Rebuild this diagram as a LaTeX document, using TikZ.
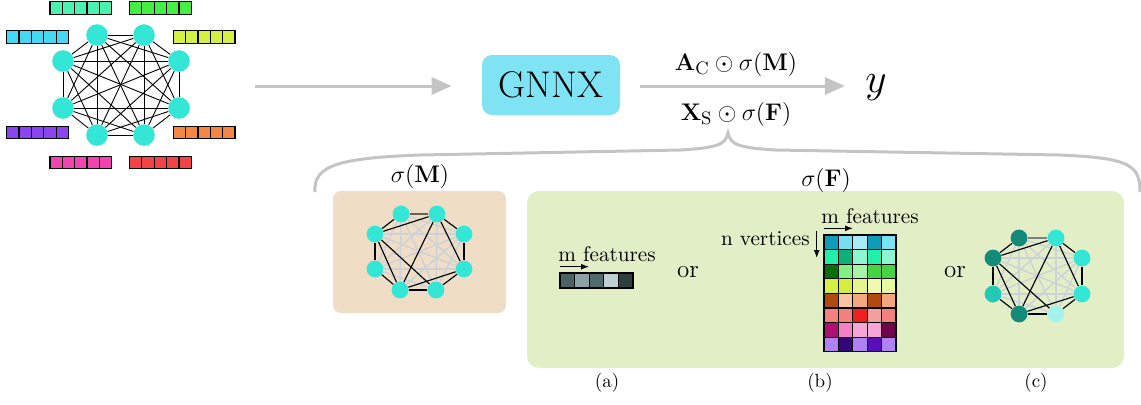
\documentclass[tikz,border=0pt]{standalone}
\usepackage{amsmath}
\usetikzlibrary{arrows.meta}
\definecolor{turq}{HTML}{33E6D6}
\definecolor{arrowgray}{HTML}{C4C4C4}
\definecolor{gnnxcol}{HTML}{7FE3F3}
\definecolor{beigebox}{HTML}{EFDDC5}
\definecolor{greenbox}{HTML}{E2EEC6}
\definecolor{lightedge}{HTML}{CDD1D8}
\definecolor{topedge}{HTML}{6A6258}
\definecolor{darkteal}{HTML}{138A7A}
\definecolor{midteal}{HTML}{22C9B5}
\definecolor{paleteal}{HTML}{A3F3EC}
\definecolor{barmint}{HTML}{4DF2B2}
\definecolor{bargreen}{HTML}{44EE44}
\definecolor{barcyan}{HTML}{44D8F2}
\definecolor{baryellow}{HTML}{D4F044}
\definecolor{barpurple}{HTML}{8C44F0}
\definecolor{barorange}{HTML}{F28844}
\definecolor{barpink}{HTML}{F244B0}
\definecolor{barred}{HTML}{F24444}
\newcommand{\featbar}[3]{%
  \foreach \k in {0,...,4} {\draw[featcell, fill=#3] (#1+\k*12.35,#2) rectangle ++(12.35,12.5);}%
}
\tikzset{
  grayarrow/.style={draw=arrowgray, line width=1.5pt, -{Triangle[length=10pt,width=8.5pt]}},
  bignode/.style={circle, fill=turq, minimum size=10.8pt, inner sep=0pt},
  smallnode/.style={circle, fill=turq, minimum size=8.4pt, inner sep=0pt},
  kedge/.style={draw=black, line width=0.55pt},
  bigedge/.style={draw=black, line width=0.45pt},
  gedge/.style={draw=lightedge, line width=0.7pt},
  topline/.style={draw=topedge, line width=0.9pt},
  featcell/.style={draw=black, line width=0.6pt},
  smallarrow/.style={-{Latex[length=4pt,width=3pt]}, line width=0.6pt},
  panel/.style={rounded corners=4pt, inner sep=0pt},
}
\begin{document}
\begin{tikzpicture}[x=0.5pt,y=-0.5pt]
\useasboundingbox (0,0) rectangle (1141,404);

% ---------- left complete graph ----------
\foreach \i/\x/\y in {1/97/35,2/144/35,3/179/61,4/179/108,5/144/135,6/97/135,7/63/108,8/63/61}
  \node[bignode] (L\i) at (\x,\y) {};
\foreach \i in {1,...,7}{
  \pgfmathtruncatemacro\s{\i+1}
  \foreach \j in {\s,...,8}{\draw[bigedge] (L\i) -- (L\j);}
}
\featbar{50}{1.8}{barmint}
\featbar{129.5}{1.8}{bargreen}
\featbar{6.7}{30.8}{barcyan}
\featbar{173.3}{30.8}{baryellow}
\featbar{6.7}{126.3}{barpurple}
\featbar{173.3}{126.3}{barorange}
\featbar{50}{156.2}{barpink}
\featbar{129.5}{156.2}{barred}

% ---------- pipeline ----------
\coordinate (g0) at (255,86);
\node[fill=gnnxcol, rounded corners=5pt, minimum width=69pt, minimum height=30pt, inner sep=0pt] (gnnx) at (551,85)
  {\fontsize{18.6}{22}\selectfont GNNX};
\node[inner sep=0pt] (y) at (876,87.5) {\fontsize{22}{26}\selectfont$y$};
\draw[grayarrow, shorten >=15pt] (g0) -- (gnnx.west |- g0);
\draw[grayarrow, shorten <=10pt, shorten >=10pt] (gnnx.east |- g0) -- (y.west |- g0);
\node[anchor=base, inner sep=0pt] (lab1) at (736,70)
  {\fontsize{12.5}{15}\selectfont$\mathbf{A}_{\mathrm{C}}\odot\sigma(\mathbf{M})$};
\node[anchor=base, inner sep=0pt] (lab2) at (736,120)
  {\fontsize{12.5}{15}\selectfont$\mathbf{X}_{\mathrm{S}}\odot\sigma(\mathbf{F})$};

% ---------- brace ----------
\draw[arrowgray, line width=1.5pt]
  (315,192) .. controls (313,165) and (340,158) .. (420,155)
  -- (680,150) .. controls (715,148) and (726,145) .. (728,133)
  .. controls (730,145) and (741,148) .. (776,150)
  -- (1060,155) .. controls (1130,158) and (1140,165) .. (1140,192);

% ---------- panels ----------
\node[panel, fill=beigebox, minimum width=86.5pt, minimum height=61pt] (mbox) at (419.5,252) {};
\node[panel, fill=greenbox, rounded corners=6pt, minimum width=298.5pt, minimum height=88.5pt] (fbox) at (825.5,279.5) {};
\node (sigM) at (420,176) {\fontsize{12}{14}\selectfont$\sigma(\mathbf{M})$};
\node (sigF) at (826,180) {\fontsize{12}{14}\selectfont$\sigma(\mathbf{F})$};

% ---------- sigma(M) graph ----------
\foreach \i/\x/\y in {1/401/214,2/437/214,3/464/234,4/464/269,5/436/290,6/400/290,7/375/269,8/375/234}
  \node[smallnode] (M\i) at (\x,\y) {};
\foreach \i in {1,...,7}{
  \pgfmathtruncatemacro\s{\i+1}
  \foreach \j in {\s,...,8}{\draw[gedge] (M\i) -- (M\j);}
}
\foreach \a/\b in {8/1,8/2,8/7,8/6,8/5,2/6,2/3,2/4,3/4,4/6,4/5,7/6,6/5}
  \draw[kedge] (M\a) -- (M\b);
\draw[topline] (M1) -- (M2);

% ---------- (a) feature vector ----------
\node[anchor=base west, inner sep=0pt] (mfa) at (558,261.5) {\fontsize{10.6}{12}\selectfont m features};
\coordinate (a0) at (560,266.7);
\coordinate (a1) at (589,266.7);
\draw[smallarrow] (a0) -- (a1);
\foreach \c [count=\k from 0] in {4A6168,8AA2A8,4F6B6D,C0CFD3,2F3E41}{
  \definecolor{tmpc}{HTML}{\c}
  \draw[featcell, fill=tmpc] (560+\k*14.6,273) rectangle ++(14.6,15);
}
\node (or1) at (688,272) {\fontsize{12.5}{15}\selectfont or};

% ---------- (b) feature matrix ----------
\node[anchor=base west, inner sep=0pt] (mfb) at (821,223) {\fontsize{10.6}{12}\selectfont m features};
\coordinate (b0) at (824,228.3);
\coordinate (b1) at (853,228.3);
\draw[smallarrow] (b0) -- (b1);
\node[anchor=base east, inner sep=0pt] (nv) at (810,245) {\fontsize{10.6}{12}\selectfont n vertices};
\coordinate (v0) at (816.7,231);
\coordinate (v1) at (816.7,258);
\draw[smallarrow] (v0) -- (v1);
\foreach \row [count=\r from 0] in {%
  {0E9DB8,77DEF2,A6EDF7,0E9DB8,77E3F3},%
  {22F0A8,0EB07A,8CF5D2,22F0A8,8CF5D2},%
  {067006,80F080,A6F5A6,44D444,44D444},%
  {D4F044,D4EE40,E4F590,EEFAB0,E8FAA0},%
  {B04A0E,F8C4A4,F5A880,B04A0E,F5A880},%
  {F58080,F58080,F02020,F5A0A0,F58080},%
  {B00E70,F580C8,F8A6D8,F5A6D8,70044A},%
  {B080F5,33067A,B080F5,5A0EB8,B080F5}}{
  \foreach \c [count=\k from 0] in \row {
    \definecolor{tmpc}{HTML}{\c}
    \draw[featcell, fill=tmpc] (824+\k*14.4,235+\r*14.6) rectangle ++(14.4,14.6);
  }
}
\node (or2) at (955,272) {\fontsize{12.5}{15}\selectfont or};

% ---------- (c) graph ----------
\foreach \i/\x/\y/\col in {1/1019/238/darkteal,2/1056/238/turq,3/1082/258/turq,4/1082/294/turq,5/1056/314/paleteal,6/1019/314/darkteal,7/993/294/midteal,8/993/258/darkteal}
  \node[smallnode, fill=\col] (C\i) at (\x,\y) {};
\foreach \i in {1,...,7}{
  \pgfmathtruncatemacro\s{\i+1}
  \foreach \j in {\s,...,8}{\draw[gedge] (C\i) -- (C\j);}
}
\foreach \a/\b in {8/1,8/2,8/7,8/6,8/5,2/6,2/3,2/4,3/4,4/6,4/5,7/6,6/5}
  \draw[kedge] (C\a) -- (C\b);
\draw[topline, draw=gray] (C1) -- (C2);

% ---------- captions ----------
\node (capa) at (607,383) {\fontsize{9.5}{11}\selectfont (a)};
\node (capb) at (820,383) {\fontsize{9.5}{11}\selectfont (b)};
\node (capc) at (1036,383) {\fontsize{9.5}{11}\selectfont (c)};
\end{tikzpicture}
\end{document}
